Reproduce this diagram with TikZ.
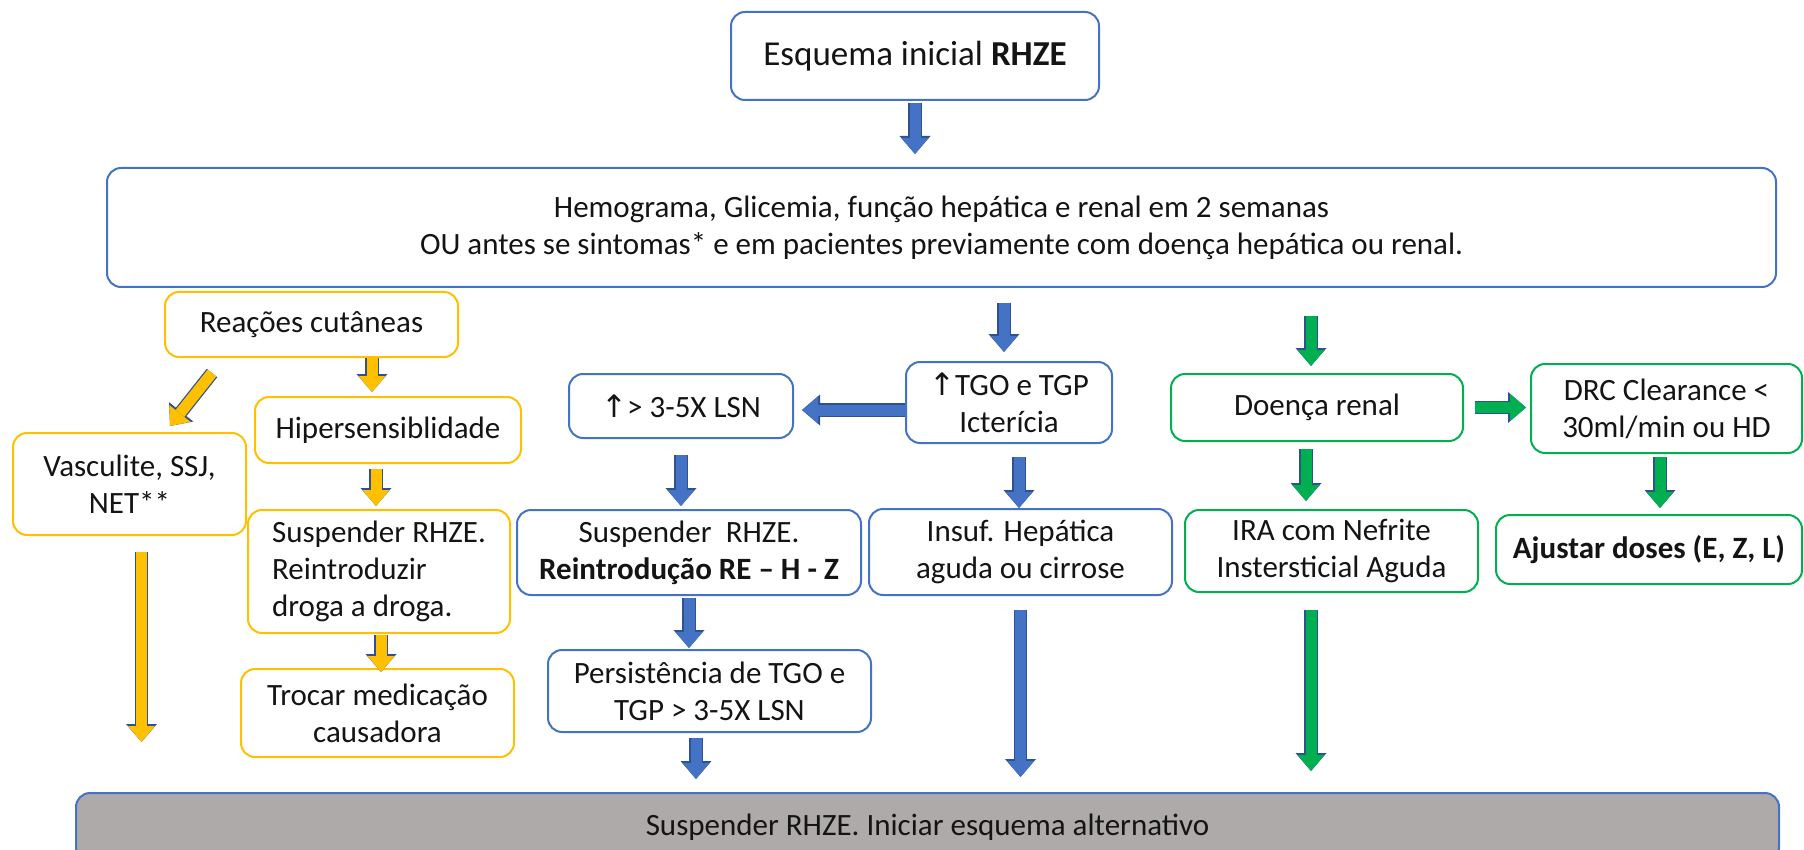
\documentclass[tikz,border=0pt]{standalone}
\usepackage{fontspec}
\setmainfont{Carlito}
\newfontfamily\symbfont{DejaVu Sans}
\usepackage{xcolor}
\usepackage{tikz}
\definecolor{boxblue}{RGB}{68, 114, 196}
\definecolor{boxyellow}{RGB}{255, 192, 0}
\definecolor{boxgreen}{RGB}{0, 176, 80}
\definecolor{boxgrey}{RGB}{174, 170, 170}
\definecolor{arrowedge}{RGB}{47, 82, 143}
\definecolor{textdark}{RGB}{20, 20, 20}
\newcommand{\up}{{\symbfont\char"2191}}
\usetikzlibrary{arrows.meta, positioning}

\begin{document}
\begin{tikzpicture}[
        x=1pt, y=-1pt,
        every node/.style={font=\fontsize{31}{37}\selectfont, text=textdark},
        box/.style={rectangle, rounded corners=14pt, line width=2pt, fill=white, align=center, inner sep=2pt},
        bluebox/.style={box, draw=boxblue},
        yellowbox/.style={box, draw=boxyellow},
        greenbox/.style={box, draw=boxgreen},
        blockarrow/.style={line width=11pt, -{Triangle[width=27pt,length=16pt,line width=0pt]},
            preaction={draw=arrowedge, line width=13.5pt, -{Triangle[width=31pt,length=18pt,line width=0pt]}}},
        barrow/.style={blockarrow, draw=boxblue},
        yarrow/.style={blockarrow, draw=boxyellow},
        garrow/.style={blockarrow, draw=boxgreen}
    ]
        \useasboundingbox (0,0) rectangle (1804,850);

        \node[bluebox, minimum width=368pt, minimum height=88pt, font=\fontsize{35}{42}\selectfont] (start) at (915,56) {Esquema inicial \textbf{RHZE}};
        \node[bluebox, minimum width=1669pt, minimum height=119pt] (hemo) at (941.5,227.5) {Hemograma, Glicemia, função hepática e renal em 2 semanas\\OU antes se sintomas* e em pacientes previamente com doença hepática ou renal.};

        \node[yellowbox, minimum width=293pt, minimum height=65pt] (reac) at (311.5,324.5) {Reações cutâneas};
        \node[yellowbox, minimum width=233pt, minimum height=102pt] (vasc) at (129.5,484) {Vasculite, SSJ,\\NET**};
        \node[yellowbox, minimum width=266pt, minimum height=66pt] (hip) at (388,430) {Hipersensiblidade};
        \node[yellowbox, align=left, minimum width=262pt, minimum height=123pt] (suspy) at (379,571.5) {Suspender RHZE.\\Reintroduzir\\droga a droga.};
        \node[yellowbox, minimum width=273pt, minimum height=88pt] (troc) at (377.5,713) {Trocar medicação\\causadora};

        \node[bluebox, minimum width=224pt, minimum height=64pt] (lsn) at (681,406) {\up> 3-5X LSN};
        \node[bluebox, minimum width=206pt, minimum height=81pt] (tgo) at (1009,402.5) {\up TGO e TGP\\Icterícia};
        \node[bluebox, minimum width=344pt, minimum height=85pt] (suspb) at (689,552.5) {Suspender~ RHZE.\\\textbf{Reintrodução RE – H - Z}};
        \node[bluebox, minimum width=303pt, minimum height=86pt] (insuf) at (1020.5,552) {Insuf. Hepática\\aguda ou cirrose};
        \node[bluebox, minimum width=323pt, minimum height=82pt] (pers) at (709.5,691) {Persistência de TGO e\\TGP > 3-5X LSN};

        \node[greenbox, minimum width=292pt, minimum height=67pt] (doenca) at (1317,407.5) {Doença renal};
        \node[greenbox, minimum width=271pt, minimum height=89pt] (drc) at (1666.5,408.5) {DRC Clearance <\\30ml/min ou HD};
        \node[greenbox, minimum width=293pt, minimum height=82pt] (ira) at (1331.5,551) {IRA com Nefrite\\Instersticial Aguda};
        \node[greenbox, minimum width=306pt, minimum height=69pt] (ajust) at (1649,549.5) {\textbf{Ajustar doses (E, Z, L)}};

        \node[box, draw=boxblue, fill=boxgrey, minimum width=1703pt, minimum height=68pt] (final) at (927.5,827) {Suspender RHZE. Iniciar esquema alternativo};

        \draw[barrow, shorten <=2pt, shorten >=13pt] (start.south) -- (start.south |- hemo.north);
        \draw[barrow, shorten <=15pt, shorten >=9pt] ([xshift=-5pt]tgo.north |- hemo.south) -- ([xshift=-5pt]tgo.north);
        \draw[garrow, shorten <=28pt, shorten >=7pt] ([xshift=-6pt]doenca.north |- hemo.south) -- ([xshift=-6pt]doenca.north);

        \draw[yarrow] ([xshift=48pt, yshift=-15pt]reac.south west) -- ([xshift=40.5pt, yshift=6pt]vasc.north);
        \draw[yarrow, shorten >=4pt] ([xshift=-16pt]hip.north |- reac.south) -- ([xshift=-16pt]hip.north);
        \draw[yarrow, shorten <=5pt, shorten >=3pt] ([xshift=-3pt]suspy.north |- hip.south) -- ([xshift=-3pt]suspy.north);
        \draw[yarrow, shorten <=1pt, shorten >=-4pt] ([xshift=2pt]suspy.south) -- ([xshift=2pt]suspy.south |- troc.north);
        \draw[yarrow, shorten <=16pt, shorten >=50pt] ([xshift=12pt]vasc.south) -- ([xshift=12pt]vasc.south |- final.north);

        \draw[barrow, shorten >=8pt] ([yshift=-7.5pt]tgo.west) -- ([yshift=-7.5pt]tgo.west -| lsn.east);
        \draw[barrow, shorten <=16pt, shorten >=3pt] (lsn.south) -- (lsn.south |- suspb.north);
        \draw[barrow, shorten <=13pt] ([xshift=-1.5pt]insuf.north |- tgo.south) -- ([xshift=-1.5pt]insuf.north);
        \draw[barrow, shorten <=2pt, shorten >=1pt] (suspb.south) -- (suspb.south |- pers.north);
        \draw[barrow, shorten <=5pt, shorten >=13pt] ([xshift=-13.5pt]pers.south) -- ([xshift=-13.5pt]pers.south |- final.north);
        \draw[barrow, shorten <=14pt, shorten >=15pt] (insuf.south) -- (insuf.south |- final.north);

        \draw[garrow, shorten <=7pt, shorten >=8pt] ([xshift=-11pt]doenca.south) -- ([xshift=-11pt]doenca.south |- ira.north);
        \draw[garrow, shorten <=11pt, shorten >=4pt] (doenca.east) -- (doenca.east -| drc.west);
        \draw[garrow, shorten <=3pt, shorten >=6pt] ([xshift=-6.5pt]drc.south) -- ([xshift=-6.5pt]drc.south |- ajust.north);
        \draw[garrow, shorten <=17pt, shorten >=21pt] ([xshift=-20.5pt]ira.south) -- ([xshift=-20.5pt]ira.south |- final.north);

    \end{tikzpicture}
\end{document}
